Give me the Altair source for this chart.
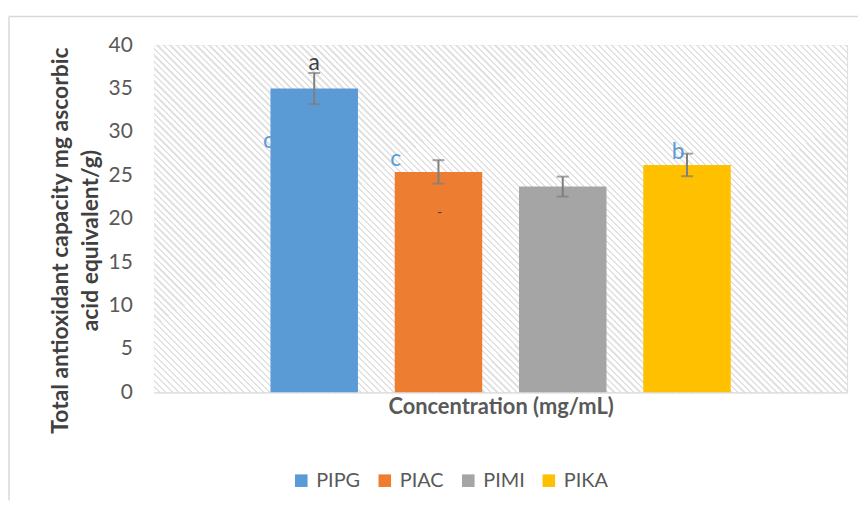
import altair as alt
import pandas as pd

categories = ["PIPG", "PIAC", "PIMI", "PIKA"]
values = [35.0, 25.4, 23.7, 26.2]
errors = [1.8, 1.35, 1.15, 1.3]
colors = ["#5b9bd5", "#ed7d31", "#a5a5a5", "#ffc000"]

ann_text = ["c", "a", "c", "-", "b"]
ann_cat = ["PIPG", "PIPG", "PIAC", "PIAC", "PIKA"]
ann_y = [28.9, 38.0, 26.9, 20.6, 27.7]
ann_dx = [-46, 0, -43, 1, -9]
ann_color = ["#5b9bd5", "#404040", "#5b9bd5", "#404040", "#5b9bd5"]
ann_size = [23, 23, 23, 14, 23]

W, H = 697, 349
FONT = "Lato"

df = pd.DataFrame({
    "series": categories,
    "value": values,
    "lo": [v - e for v, e in zip(values, errors)],
    "hi": [v + e for v, e in zip(values, errors)],
})

# hatch background via striped gradient (45 degree stripes)
N = 160
stops = []
for i in range(N):
    a = i / N
    b = (i + 0.65) / N
    c = (i + 1) / N
    stops += [
        {"offset": a, "color": "#ffffff"},
        {"offset": b, "color": "#ffffff"},
        {"offset": b, "color": "#e2e2e2"},
        {"offset": c, "color": "#e2e2e2"},
    ]
hatch_fill = {"gradient": "linear", "x1": 0, "y1": 1, "x2": 1.2, "y2": 0.4, "stops": stops}

one = alt.Data(values=[{}])

hatch = alt.Chart(one).mark_rect(fill=hatch_fill).encode(
    x=alt.value(0), x2=alt.value(W), y=alt.value(0), y2=alt.value(H)
)

xscale = alt.Scale(domain=categories, paddingInner=0.296, paddingOuter=0.936)
yscale = alt.Scale(domain=[0, 40])

base = alt.Chart(df)

bars = base.mark_bar(size=88).encode(
    x=alt.X("series:N", scale=xscale, sort=categories,
            axis=alt.Axis(labels=False, ticks=False, domain=False,
                          title="Concentration (mg/mL)", titleFont=FONT,
                          titleFontSize=22, titleFontWeight="bold",
                          titleColor="#595959", titlePadding=4)),
    y=alt.Y("value:Q", scale=yscale,
            axis=alt.Axis(values=list(range(0, 41, 5)), ticks=False, domain=False,
                          labelFont=FONT, labelFontSize=21, labelColor="#595959",
                          labelPadding=22, gridColor="#d9d9d9", gridWidth=1.5,
                          title=["Total antioxidant capacity mg ascorbic", "acid equivalent/g)"],
                          titleFont=FONT, titleFontSize=23, titleFontWeight="bold",
                          titleColor="#404040", titlePadding=6, titleLineHeight=30,
                          titleY=196)),
    color=alt.Color("series:N", sort=categories,
                    scale=alt.Scale(domain=categories, range=colors),
                    legend=alt.Legend(title=None, orient="none", direction="horizontal",
                                      legendX=138, legendY=428, symbolType="square",
                                      symbolSize=160, symbolStrokeWidth=0,
                                      labelFont=FONT, labelFontSize=20,
                                      labelColor="#595959", columnPadding=14,
                                      symbolOffset=0, labelOffset=5)),
)

err = base.mark_rule(color="#7f7f7f", strokeWidth=2).encode(
    x=alt.X("series:N", scale=xscale, sort=categories),
    y=alt.Y("lo:Q", scale=yscale),
    y2="hi:Q",
)
cap_lo = base.mark_tick(color="#7f7f7f", thickness=2, size=12).encode(
    x=alt.X("series:N", scale=xscale, sort=categories),
    y=alt.Y("lo:Q", scale=yscale),
)
cap_hi = base.mark_tick(color="#7f7f7f", thickness=2, size=12).encode(
    x=alt.X("series:N", scale=xscale, sort=categories),
    y=alt.Y("hi:Q", scale=yscale),
)

ann_layers = []
for t, cat, yv, dx, col, fs in zip(ann_text, ann_cat, ann_y, ann_dx, ann_color, ann_size):
    d = pd.DataFrame({"series": [cat], "y": [yv], "t": [t]})
    ann_layers.append(
        alt.Chart(d).mark_text(dx=dx, color=col, font=FONT, fontSize=fs, baseline="middle").encode(
            x=alt.X("series:N", scale=xscale, sort=categories),
            y=alt.Y("y:Q", scale=yscale),
            text="t:N",
        )
    )

border_left = alt.Chart(one).mark_rule(color="#d9d9d9", strokeWidth=1.5).encode(
    x=alt.value(-146), y=alt.value(-29), y2=alt.value(458)
)
border_top = alt.Chart(one).mark_rule(color="#d9d9d9", strokeWidth=1.5).encode(
    x=alt.value(-146), x2=alt.value(708), y=alt.value(-29)
)

chart = alt.layer(
    hatch, ann_layers[0], bars, err, cap_lo, cap_hi, *ann_layers[1:], border_left, border_top
).properties(
    width=W, height=H, padding={"left": 0, "top": 6, "right": 0, "bottom": 0}
).configure_view(
    stroke="#d9d9d9", strokeWidth=1.5
).configure(background="white")

chart.save("out.html", embed_options={"renderer": "svg", "actions": False})
